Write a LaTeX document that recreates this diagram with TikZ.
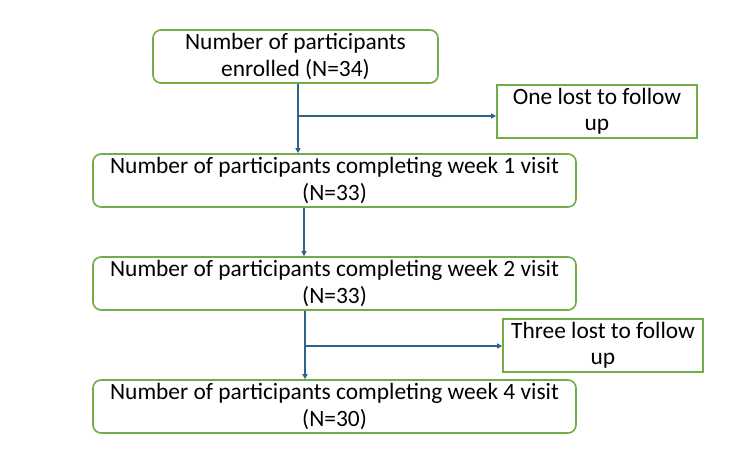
\documentclass[tikz,border=0pt]{standalone}
\usepackage{fontspec}
\setmainfont{Carlito}
\usetikzlibrary{arrows.meta}
\definecolor{boxgreen}{RGB}{112,173,71}
\definecolor{arrblue}{RGB}{49,98,135}
\begin{document}
\begin{tikzpicture}[x=1pt,y=-1pt,
  roundbox/.style={draw=boxgreen,line width=1.6pt,rounded corners=8pt,align=center,inner sep=0pt,
    font=\fontsize{23.4}{26.5}\selectfont},
  sqbox/.style={draw=boxgreen,line width=1.6pt,align=center,inner sep=0pt,
    font=\fontsize{23.4}{26.5}\selectfont},
  arr/.style={draw=arrblue,line width=1.3pt,-{Triangle[length=5pt,width=5pt]}}]
\useasboundingbox (0,0) rectangle (750,472);
\node[roundbox,minimum width=285pt,minimum height=53pt] (b1) at (295.5,56.5) {Number of participants\\enrolled (N=34)};
\node[sqbox,minimum width=200pt,minimum height=53pt] (l1) at (597,111.5) {One lost to follow\\up};
\node[roundbox,minimum width=483pt,minimum height=53pt] (b2) at (334.5,180.5) {Number of participants completing week 1 visit\\(N=33)};
\node[roundbox,minimum width=483pt,minimum height=53pt] (b3) at (334.5,283.5) {Number of participants completing week 2 visit\\(N=33)};
\node[sqbox,minimum width=200pt,minimum height=53pt] (l2) at (603,345.5) {Three lost to follow\\up};
\node[roundbox,minimum width=483pt,minimum height=53pt] (b4) at (334.5,406.5) {Number of participants completing week 4 visit\\(N=30)};
\coordinate (a1) at (298,116);
\coordinate (a2) at (304,0);
\coordinate (a3) at (305,346);
\draw[arr] (a1 |- b1.south) -- (a1 |- b2.north);
\draw[arr] (a1) -- (a1 -| l1.west);
\draw[arr] (a2 |- b2.south) -- (a2 |- b3.north);
\draw[arr] (a3 |- b3.south) -- (a3 |- b4.north);
\draw[arr] (a3) -- (a3 -| l2.west);
\end{tikzpicture}
\end{document}
